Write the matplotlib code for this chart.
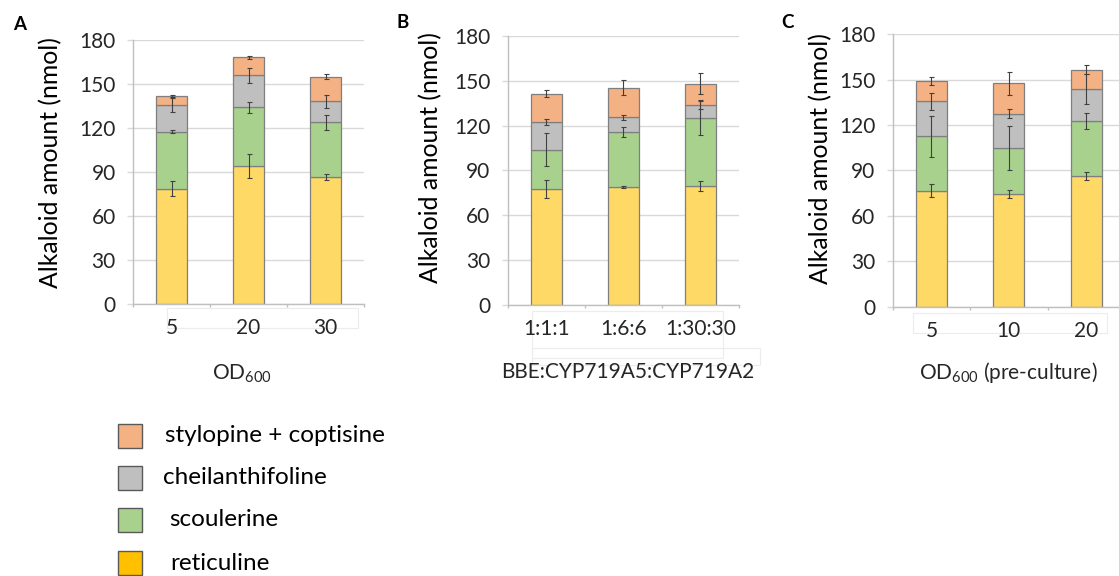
import numpy as np
import matplotlib
matplotlib.use('Agg')
import matplotlib.pyplot as plt
from matplotlib.patches import Rectangle

plt.rcParams['font.family'] = ['Lato', 'DejaVu Sans']
plt.rcParams['mathtext.default'] = 'regular'

# compounds, bottom to top of each stack
compounds = ['reticuline', 'scoulerine', 'cheilanthifoline', 'stylopine + coptisine']
bar_colors = ['#FFD966', '#A9D18E', '#BFBFBF', '#F4B183']
legend_colors = ['#FFC000', '#A9D18E', '#BFBFBF', '#F4B183']

# panel A - OD600
cats_a = ['5', '20', '30']
vals_a = [[78.6, 94.3, 86.8],     # reticuline
          [38.9, 39.7, 37.1],     # scoulerine
          [18.0, 21.9, 14.3],     # cheilanthifoline
          [6.3, 12.3, 16.8]]      # stylopine + coptisine
errs_a = [[5.2, 8.2, 2.0],
          [1.0, 3.8, 5.2],
          [4.7, 4.9, 4.3],
          [0.5, 1.1, 1.8]]

# panel B - enzyme ratio
cats_b = ['1:1:1', '1:6:6', '1:30:30']
vals_b = [[77.7, 78.8, 79.7],
          [26.1, 36.9, 45.6],
          [18.8, 9.8, 8.7],
          [18.8, 19.9, 14.0]]
errs_b = [[6.1, 0.4, 3.3],
          [10.9, 3.3, 11.7],
          [1.9, 1.9, 2.7],
          [2.3, 4.8, 6.9]]

# panel C - OD600 of pre-culture
cats_c = ['5', '10', '20']
vals_c = [[76.7, 74.5, 86.3],
          [36.0, 30.2, 36.2],
          [22.9, 22.9, 21.3],
          [13.5, 20.0, 12.9]]
errs_c = [[4.1, 2.7, 2.7],
          [13.5, 14.6, 5.3],
          [5.5, 3.2, 9.8],
          [2.7, 7.6, 2.7]]

yticks = [0, 30, 60, 90, 120, 150, 180]

W, H = 1119, 576
fig = plt.figure(figsize=(W / 100, H / 100), dpi=100)


def px_axes(left, right, top, bottom):
    return fig.add_axes([left / W, 1 - bottom / H, (right - left) / W, (bottom - top) / H])


def draw_panel(ax, cats, vals, errs, xlabel, xlab_pos, ylab_pos):
    x = np.arange(len(cats))
    bottom = np.zeros(len(cats))
    for v, e, c in zip(vals, errs, bar_colors):
        v = np.array(v)
        ax.bar(x, v, 0.4, bottom=bottom, color=c, edgecolor='#7f7f7f', linewidth=0.9, zorder=2)
        ax.errorbar(x, bottom + v, yerr=e, fmt='none', ecolor='#404040',
                    elinewidth=0.8, capsize=1.8, capthick=0.8, zorder=3)
        bottom = bottom + v
    ax.set_xlim(-0.5, len(cats) - 0.5)
    ax.set_ylim(0, 180)
    ax.set_yticks(yticks)
    ax.set_xticks(x)
    ax.set_xticklabels(cats)
    ax.set_xticks(np.arange(len(cats) + 1) - 0.5, minor=True)
    ax.grid(axis='y', color='#d9d9d9', linewidth=1, zorder=0)
    for s in ['top', 'right']:
        ax.spines[s].set_visible(False)
    for s in ['left', 'bottom']:
        ax.spines[s].set_color('#bfbfbf')
        ax.spines[s].set_linewidth(1)
    ax.tick_params(axis='y', length=4.5, color='#d9d9d9', width=1, pad=8,
                   labelsize=15, labelcolor='#262626')
    ax.tick_params(axis='x', which='major', length=0, pad=10,
                   labelsize=15, labelcolor='#262626')
    ax.tick_params(axis='x', which='minor', length=2, color='#bfbfbf', width=1)
    ax.set_ylabel('Alkaloid amount (nmol)', fontsize=17.8, color='#000000')
    ax.yaxis.set_label_coords(*ylab_pos)
    ax.text(xlab_pos[0], xlab_pos[1], xlabel, transform=ax.transAxes,
            ha='center', va='baseline', fontsize=15, color='#262626')


ax_a = px_axes(133, 364, 40, 304)
ax_b = px_axes(507.7, 739, 36, 304.7)
ax_c = px_axes(892.7, 1125, 34.3, 306.7)

draw_panel(ax_a, cats_a, vals_a, errs_a, 'OD$_{600}$', (0.472, -0.285), (-0.307, 0.536))
draw_panel(ax_b, cats_b, vals_b, errs_b, 'BBE:CYP719A5:CYP719A2', (0.52, -0.274), (-0.284, 0.546))
draw_panel(ax_c, cats_c, vals_c, errs_c, 'OD$_{600}$ (pre-culture)', (0.496, -0.267), (-0.261, 0.542))

# faint label boxes left over from the original layout
for (l, r, t, b) in [(167, 358, 308, 328), (532, 723, 311, 358), (532, 760, 348, 365), (913, 1107, 313, 333)]:
    fig.add_artist(Rectangle((l / W, 1 - b / H), (r - l) / W, (b - t) / H, transform=fig.transFigure,
                             fill=False, edgecolor='#ececec', linewidth=0.8, zorder=-1))

# panel letters
for lab, xp, yp in [('A', 20, 25), ('B', 403, 23), ('C', 788, 23)]:
    fig.text(xp / W, 1 - yp / H, lab, fontsize=13.5, fontweight='bold', ha='center', va='center')

# legend
leg_y = [436, 478, 520, 563]
leg_tx = [165, 163, 169, 170]
for name, c, yc, tx in zip(compounds[::-1], legend_colors[::-1], leg_y, leg_tx):
    fig.add_artist(Rectangle((118 / W, 1 - (yc + 12) / H), 24 / W, 24 / H, transform=fig.transFigure,
                             facecolor=c, edgecolor='#595959', linewidth=1))
    fig.text(tx / W, 1 - yc / H, name, fontsize=17.5, ha='left', va='center', color='#000000')

fig.savefig('out.png', dpi=100)
